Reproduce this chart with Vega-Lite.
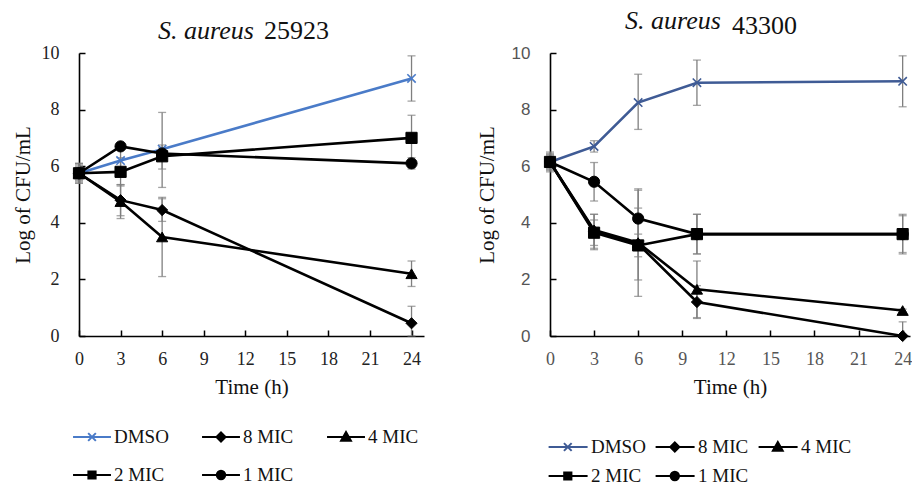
{
  "$schema": "https://vega.github.io/schema/vega-lite/v6.json",
  "padding": {"left": 12, "top": 8, "right": 0, "bottom": 0},
  "spacing": 52,
  "config": {
    "view": {"stroke": null},
    "font": "Liberation Serif",
    "axis": {"grid": false, "domainColor": "#000", "domainWidth": 1.6, "tickColor": "#000", "tickWidth": 1.5, "tickSize": -6, "labelFont": "Liberation Serif", "labelFontSize": 18, "labelColor": "#222", "labelFlush": false, "labelOverlap": false, "titleFont": "Liberation Serif", "titleFontSize": 21, "titleFontWeight": "normal", "titleColor": "#111"},
    "axisX": {"labelPadding": 20, "titlePadding": 8},
    "axisY": {"labelPadding": 26, "titlePadding": 8},
    "legend": {"labelFont": "Liberation Serif", "labelFontSize": 19, "labelColor": "#111", "symbolStrokeWidth": 2, "labelLimit": 200},
    "title": {"font": "Liberation Serif", "fontSize": 26, "fontWeight": "normal", "color": "#111"}
  },
  "resolve": {"scale": {"color": "independent", "shape": "independent"}, "legend": {"color": "independent", "shape": "independent"}},
  "datasets": {
    "left": [
      {"t": 0, "s": "DMSO", "m": 5.75, "lo": 5.45, "hi": 6.05},
      {"t": 3, "s": "DMSO", "m": 6.2, "lo": 5.7, "hi": 6.7},
      {"t": 6, "s": "DMSO", "m": 6.6, "lo": 5.25, "hi": 7.9},
      {"t": 24, "s": "DMSO", "m": 9.1, "lo": 8.3, "hi": 9.9},
      {"t": 0, "s": "1 MIC", "m": 5.75, "lo": 5.55, "hi": 5.95},
      {"t": 3, "s": "1 MIC", "m": 6.7, "lo": 6.6, "hi": 6.8},
      {"t": 6, "s": "1 MIC", "m": 6.45, "lo": 6.25, "hi": 6.65},
      {"t": 24, "s": "1 MIC", "m": 6.1, "lo": 5.9, "hi": 6.3},
      {"t": 0, "s": "8 MIC", "m": 5.75, "lo": 5.4, "hi": 6.1},
      {"t": 3, "s": "8 MIC", "m": 4.8, "lo": 4.25, "hi": 5.35},
      {"t": 6, "s": "8 MIC", "m": 4.45, "lo": 4.05, "hi": 4.85},
      {"t": 24, "s": "8 MIC", "m": 0.45, "lo": 0, "hi": 1.05},
      {"t": 0, "s": "4 MIC", "m": 5.75, "lo": 5.4, "hi": 6.1},
      {"t": 3, "s": "4 MIC", "m": 4.75, "lo": 4.15, "hi": 5.35},
      {"t": 6, "s": "4 MIC", "m": 3.5, "lo": 2.1, "hi": 4.9},
      {"t": 24, "s": "4 MIC", "m": 2.2, "lo": 1.75, "hi": 2.65},
      {"t": 0, "s": "2 MIC", "m": 5.75, "lo": 5.5, "hi": 6.0},
      {"t": 3, "s": "2 MIC", "m": 5.8, "lo": 5.3, "hi": 6.3},
      {"t": 6, "s": "2 MIC", "m": 6.35, "lo": 5.9, "hi": 6.75},
      {"t": 24, "s": "2 MIC", "m": 7.0, "lo": 6.2, "hi": 7.8}
    ],
    "right": [
      {"t": 0, "s": "DMSO", "m": 6.15, "lo": 5.8, "hi": 6.5},
      {"t": 3, "s": "DMSO", "m": 6.7, "lo": 6.5, "hi": 6.9},
      {"t": 6, "s": "DMSO", "m": 8.25, "lo": 7.3, "hi": 9.25},
      {"t": 10, "s": "DMSO", "m": 8.95, "lo": 8.15, "hi": 9.75},
      {"t": 24, "s": "DMSO", "m": 9.0, "lo": 8.1, "hi": 9.9},
      {"t": 0, "s": "1 MIC", "m": 6.15, "lo": 5.85, "hi": 6.45},
      {"t": 3, "s": "1 MIC", "m": 5.45, "lo": 4.77, "hi": 6.13},
      {"t": 6, "s": "1 MIC", "m": 4.15, "lo": 3.15, "hi": 5.15},
      {"t": 10, "s": "1 MIC", "m": 3.6, "lo": 2.9, "hi": 4.3},
      {"t": 24, "s": "1 MIC", "m": 3.6, "lo": 2.95, "hi": 4.25},
      {"t": 0, "s": "8 MIC", "m": 6.15, "lo": 5.9, "hi": 6.4},
      {"t": 3, "s": "8 MIC", "m": 3.7, "lo": 3.1, "hi": 4.3},
      {"t": 6, "s": "8 MIC", "m": 3.25, "lo": 1.98, "hi": 4.52},
      {"t": 10, "s": "8 MIC", "m": 1.2, "lo": 0.62, "hi": 1.78},
      {"t": 24, "s": "8 MIC", "m": 0.0, "lo": 0, "hi": 0.5},
      {"t": 0, "s": "4 MIC", "m": 6.15, "lo": 5.9, "hi": 6.4},
      {"t": 3, "s": "4 MIC", "m": 3.75, "lo": 3.2, "hi": 4.3},
      {"t": 6, "s": "4 MIC", "m": 3.3, "lo": 1.4, "hi": 5.2},
      {"t": 10, "s": "4 MIC", "m": 1.65, "lo": 0.65, "hi": 2.65},
      {"t": 24, "s": "4 MIC", "m": 0.9, "lo": 0.85, "hi": 0.95},
      {"t": 0, "s": "2 MIC", "m": 6.15, "lo": 5.95, "hi": 6.35},
      {"t": 3, "s": "2 MIC", "m": 3.65, "lo": 3.05, "hi": 4.1},
      {"t": 6, "s": "2 MIC", "m": 3.2, "lo": 2.8, "hi": 3.6},
      {"t": 10, "s": "2 MIC", "m": 3.6, "lo": 2.9, "hi": 4.3},
      {"t": 24, "s": "2 MIC", "m": 3.6, "lo": 2.9, "hi": 4.3}
    ]
  },
  "hconcat": [
    {
      "title": {"text": "25923", "anchor": "start", "frame": "group", "offset": 0, "dx": 185, "dy": 26, "font": "Liberation Serif", "fontSize": 26, "fontStyle": "normal", "fontWeight": "normal", "color": "#111"},
      "vconcat": [
        {
          "width": 345,
          "height": 283,
          "title": {"text": "S. aureus", "font": "Liberation Serif", "fontSize": 26, "fontStyle": "italic", "fontWeight": "normal", "color": "#111", "anchor": "start", "frame": "group", "dx": 79, "dy": 11, "offset": 11},
          "data": {"name": "left"},
          "layer": [
            {
              "mark": {"type": "errorbar", "color": "#7F7F7F", "thickness": 1.3, "ticks": {"size": 8}},
              "encoding": {
                "x": {"field": "t", "type": "quantitative", "scale": {"domain": [0, 24.9], "nice": false, "zero": false}, "axis": {"values": [0, 3, 6, 9, 12, 15, 18, 21, 24], "title": "Time (h)", "labelFont": "Liberation Serif", "titleFont": "Liberation Serif", "titleFontWeight": "normal"}},
                "y": {"field": "lo", "type": "quantitative", "scale": {"domain": [0, 10], "nice": false}, "axis": {"values": [0, 2, 4, 6, 8, 10], "title": "Log of CFU/mL", "labelFont": "Liberation Serif", "titleFont": "Liberation Serif", "titleFontWeight": "normal"}},
                "y2": {"field": "hi"}
              }
            },
            {
              "mark": {"type": "line", "strokeWidth": 2.6},
              "encoding": {
                "x": {"field": "t", "type": "quantitative", "scale": {"domain": [0, 24.9], "nice": false, "zero": false}, "axis": {"values": [0, 3, 6, 9, 12, 15, 18, 21, 24], "title": "Time (h)", "labelFont": "Liberation Serif", "titleFont": "Liberation Serif", "titleFontWeight": "normal"}},
                "y": {"field": "m", "type": "quantitative", "scale": {"domain": [0, 10], "nice": false}, "axis": {"values": [0, 2, 4, 6, 8, 10], "title": "Log of CFU/mL", "labelFont": "Liberation Serif", "titleFont": "Liberation Serif", "titleFontWeight": "normal"}},
                "color": {"field": "s", "type": "nominal", "scale": {"domain": ["DMSO", "8 MIC", "4 MIC", "2 MIC", "1 MIC"], "range": ["#4A7BC8", "#000000", "#000000", "#000000", "#000000"]},
                  "legend": {"title": null, "orient": "bottom", "direction": "horizontal", "columns": 3, "offset": 27, "columnPadding": 29, "rowPadding": 15, "symbolSize": 576, "labelOffset": 9, "labelFont": "Liberation Serif", "labelFontSize": 19,
                    "encode": {"symbols": {"update": {
                      "shape": {"signal": "datum.value === 'DMSO' ? 'M-1.58,0H1.58M-0.32,-0.32L0.32,0.32M-0.32,0.32L0.32,-0.32' : datum.value === '8 MIC' ? 'M-1.58,0H1.58M0,-0.38L0.38,0L0,0.38L-0.38,0Z' : datum.value === '4 MIC' ? 'M-1.58,0H1.58M0,-0.41L0.41,0.32L-0.41,0.32Z' : datum.value === '2 MIC' ? 'M-1.58,0H1.58M-0.3,-0.3H0.3V0.3H-0.3Z' : 'M-1.58,0H1.58M-0.35,0A0.35,0.35,0,1,1,0.35,0A0.35,0.35,0,1,1,-0.35,0Z'"},
                      "fill": {"signal": "datum.value === 'DMSO' ? 'transparent' : '#000'"},
                      "stroke": {"signal": "datum.value === 'DMSO' ? '#4A7BC8' : '#000'"},
                      "strokeWidth": {"value": 2},
                      "opacity": {"value": 1}
                    }}}}}
              }
            },
            {
              "transform": [{"filter": "datum.s === 'DMSO'"}],
              "mark": {"type": "point", "shape": "M-1,-1L1,1M-1,1L1,-1", "filled": false, "size": 70, "strokeWidth": 1.6, "opacity": 1},
              "encoding": {
                "x": {"field": "t", "type": "quantitative", "scale": {"domain": [0, 24.9], "nice": false, "zero": false}, "axis": {"values": [0, 3, 6, 9, 12, 15, 18, 21, 24], "title": "Time (h)", "labelFont": "Liberation Serif", "titleFont": "Liberation Serif", "titleFontWeight": "normal"}},
                "y": {"field": "m", "type": "quantitative", "scale": {"domain": [0, 10], "nice": false}, "axis": {"values": [0, 2, 4, 6, 8, 10], "title": "Log of CFU/mL", "labelFont": "Liberation Serif", "titleFont": "Liberation Serif", "titleFontWeight": "normal"}},
                "color": {"field": "s", "type": "nominal", "scale": {"domain": ["DMSO", "8 MIC", "4 MIC", "2 MIC", "1 MIC"], "range": ["#4A7BC8", "#000000", "#000000", "#000000", "#000000"]}}
              }
            },
            {
              "transform": [{"filter": "datum.s !== 'DMSO'"}],
              "mark": {"type": "point", "filled": true, "size": 125, "opacity": 1, "stroke": "#000", "strokeWidth": 1},
              "encoding": {
                "x": {"field": "t", "type": "quantitative", "scale": {"domain": [0, 24.9], "nice": false, "zero": false}, "axis": {"values": [0, 3, 6, 9, 12, 15, 18, 21, 24], "title": "Time (h)", "labelFont": "Liberation Serif", "titleFont": "Liberation Serif", "titleFontWeight": "normal"}},
                "y": {"field": "m", "type": "quantitative", "scale": {"domain": [0, 10], "nice": false}, "axis": {"values": [0, 2, 4, 6, 8, 10], "title": "Log of CFU/mL", "labelFont": "Liberation Serif", "titleFont": "Liberation Serif", "titleFontWeight": "normal"}},
                "color": {"field": "s", "type": "nominal", "scale": {"domain": ["DMSO", "8 MIC", "4 MIC", "2 MIC", "1 MIC"], "range": ["#4A7BC8", "#000000", "#000000", "#000000", "#000000"]}},
                "shape": {"field": "s", "type": "nominal", "scale": {"domain": ["8 MIC", "4 MIC", "2 MIC", "1 MIC"], "range": ["diamond", "triangle-up", "square", "circle"]}, "legend": null}
              }
            }
          ]
        }
      ]
    },
    {
      "title": {"text": "43300", "anchor": "start", "frame": "group", "offset": 0, "dx": 182, "dy": 31, "font": "Liberation Serif", "fontSize": 26, "fontStyle": "normal", "fontWeight": "normal", "color": "#111"},
      "vconcat": [
        {
          "width": 360,
          "height": 283,
          "title": {"text": "S. aureus", "font": "Liberation Serif", "fontSize": 26, "fontStyle": "italic", "fontWeight": "normal", "color": "#111", "anchor": "start", "frame": "group", "dx": 75, "dy": 5, "offset": 15},
          "data": {"name": "right"},
          "layer": [
            {
              "mark": {"type": "errorbar", "color": "#7F7F7F", "thickness": 1.3, "ticks": {"size": 8}},
              "encoding": {
                "x": {"field": "t", "type": "quantitative", "scale": {"domain": [0, 24.5], "nice": false, "zero": false}, "axis": {"values": [0, 3, 6, 9, 12, 15, 18, 21, 24], "title": "Time (h)", "labelColor": "#555", "labelFont": "Liberation Serif", "titleFont": "Liberation Serif", "titleFontWeight": "normal"}},
                "y": {"field": "lo", "type": "quantitative", "scale": {"domain": [0, 10], "nice": false}, "axis": {"values": [0, 2, 4, 6, 8, 10], "title": "Log of CFU/mL", "labelFont": "Liberation Sans", "labelFontSize": 17, "labelColor": "#555", "titlePadding": 14, "titleFont": "Liberation Serif", "titleFontWeight": "normal"}},
                "y2": {"field": "hi"}
              }
            },
            {
              "mark": {"type": "line", "strokeWidth": 2.6},
              "encoding": {
                "x": {"field": "t", "type": "quantitative", "scale": {"domain": [0, 24.5], "nice": false, "zero": false}, "axis": {"values": [0, 3, 6, 9, 12, 15, 18, 21, 24], "title": "Time (h)", "labelColor": "#555", "labelFont": "Liberation Serif", "titleFont": "Liberation Serif", "titleFontWeight": "normal"}},
                "y": {"field": "m", "type": "quantitative", "scale": {"domain": [0, 10], "nice": false}, "axis": {"values": [0, 2, 4, 6, 8, 10], "title": "Log of CFU/mL", "labelFont": "Liberation Sans", "labelFontSize": 17, "labelColor": "#555", "titlePadding": 14, "titleFont": "Liberation Serif", "titleFontWeight": "normal"}},
                "color": {"field": "s", "type": "nominal", "scale": {"domain": ["DMSO", "8 MIC", "4 MIC", "2 MIC", "1 MIC"], "range": ["#3F5B95", "#000000", "#000000", "#000000", "#000000"]},
                  "legend": {"title": null, "orient": "bottom", "direction": "horizontal", "columns": 3, "offset": 37, "columnPadding": 5, "rowPadding": 6, "symbolSize": 576, "labelOffset": 15, "labelFont": "Liberation Serif", "labelFontSize": 19,
                    "encode": {"symbols": {"update": {
                      "shape": {"signal": "datum.value === 'DMSO' ? 'M-1.2,0H2.05M0.08,-0.32L0.72,0.32M0.08,0.32L0.72,-0.32' : datum.value === '8 MIC' ? 'M-1.2,0H2.05M0.4,-0.38L0.78,0L0.4,0.38L0.02,0Z' : datum.value === '4 MIC' ? 'M-1.2,0H2.05M0.4,-0.41L0.81,0.32L-0.01,0.32Z' : datum.value === '2 MIC' ? 'M-1.2,0H2.05M0.1,-0.3H0.7V0.3H0.1Z' : 'M-1.2,0H2.05M0.05,0A0.35,0.35,0,1,1,0.75,0A0.35,0.35,0,1,1,0.05,0Z'"},
                      "fill": {"signal": "datum.value === 'DMSO' ? 'transparent' : '#000'"},
                      "stroke": {"signal": "datum.value === 'DMSO' ? '#3F5B95' : '#000'"},
                      "strokeWidth": {"value": 2},
                      "opacity": {"value": 1}
                    }}}}}
              }
            },
            {
              "transform": [{"filter": "datum.s === 'DMSO'"}],
              "mark": {"type": "point", "shape": "M-1,-1L1,1M-1,1L1,-1", "filled": false, "size": 70, "strokeWidth": 1.6, "opacity": 1},
              "encoding": {
                "x": {"field": "t", "type": "quantitative", "scale": {"domain": [0, 24.5], "nice": false, "zero": false}, "axis": {"values": [0, 3, 6, 9, 12, 15, 18, 21, 24], "title": "Time (h)", "labelColor": "#555", "labelFont": "Liberation Serif", "titleFont": "Liberation Serif", "titleFontWeight": "normal"}},
                "y": {"field": "m", "type": "quantitative", "scale": {"domain": [0, 10], "nice": false}, "axis": {"values": [0, 2, 4, 6, 8, 10], "title": "Log of CFU/mL", "labelFont": "Liberation Sans", "labelFontSize": 17, "labelColor": "#555", "titlePadding": 14, "titleFont": "Liberation Serif", "titleFontWeight": "normal"}},
                "color": {"field": "s", "type": "nominal", "scale": {"domain": ["DMSO", "8 MIC", "4 MIC", "2 MIC", "1 MIC"], "range": ["#3F5B95", "#000000", "#000000", "#000000", "#000000"]}}
              }
            },
            {
              "transform": [{"filter": "datum.s !== 'DMSO'"}],
              "mark": {"type": "point", "filled": true, "size": 125, "opacity": 1, "stroke": "#000", "strokeWidth": 1},
              "encoding": {
                "x": {"field": "t", "type": "quantitative", "scale": {"domain": [0, 24.5], "nice": false, "zero": false}, "axis": {"values": [0, 3, 6, 9, 12, 15, 18, 21, 24], "title": "Time (h)", "labelColor": "#555", "labelFont": "Liberation Serif", "titleFont": "Liberation Serif", "titleFontWeight": "normal"}},
                "y": {"field": "m", "type": "quantitative", "scale": {"domain": [0, 10], "nice": false}, "axis": {"values": [0, 2, 4, 6, 8, 10], "title": "Log of CFU/mL", "labelFont": "Liberation Sans", "labelFontSize": 17, "labelColor": "#555", "titlePadding": 14, "titleFont": "Liberation Serif", "titleFontWeight": "normal"}},
                "color": {"field": "s", "type": "nominal", "scale": {"domain": ["DMSO", "8 MIC", "4 MIC", "2 MIC", "1 MIC"], "range": ["#3F5B95", "#000000", "#000000", "#000000", "#000000"]}},
                "shape": {"field": "s", "type": "nominal", "scale": {"domain": ["8 MIC", "4 MIC", "2 MIC", "1 MIC"], "range": ["diamond", "triangle-up", "square", "circle"]}, "legend": null}
              }
            }
          ]
        }
      ]
    }
  ]
}
